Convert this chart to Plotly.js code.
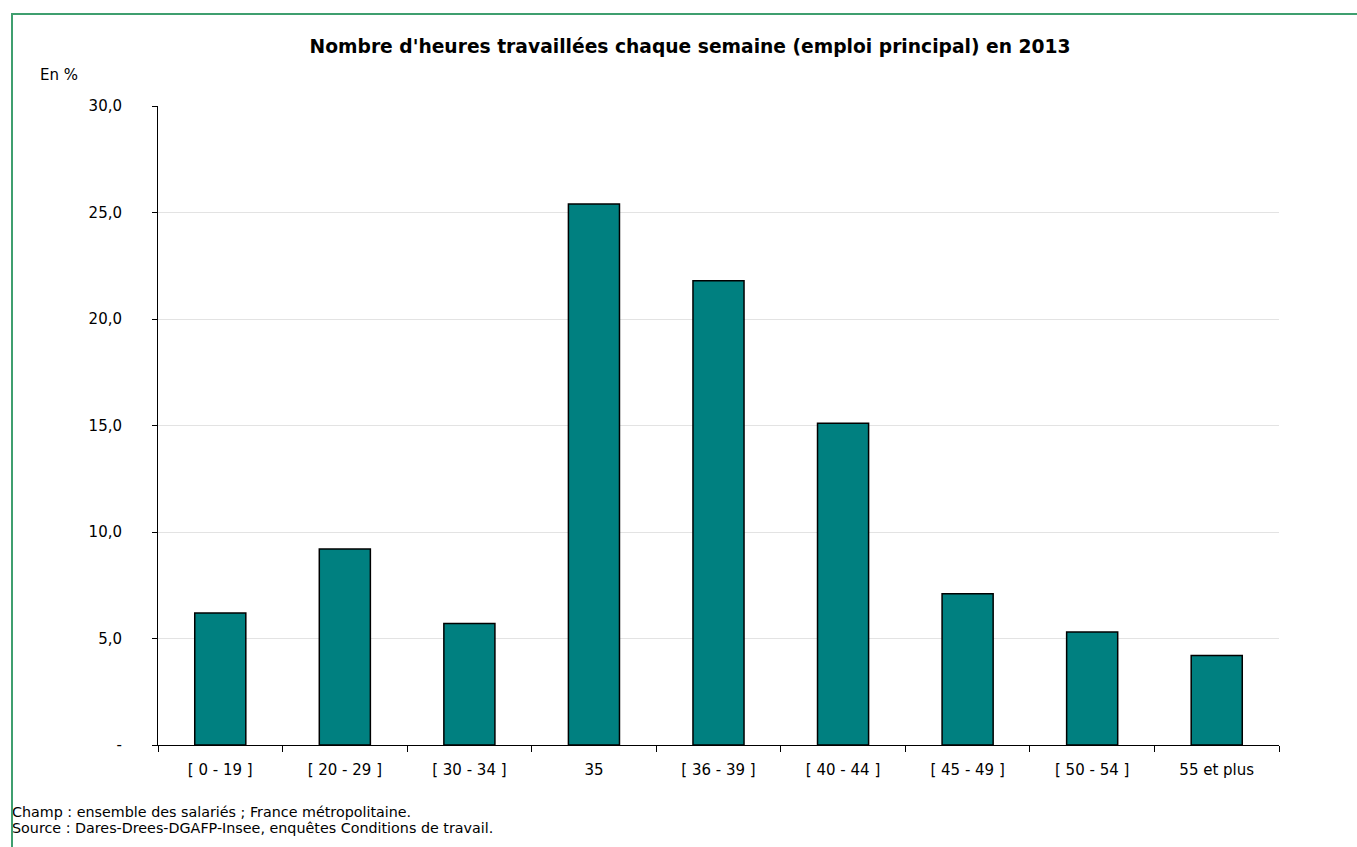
<!DOCTYPE html>
<html>
<head>
<meta charset="utf-8">
<script src="https://cdn.plot.ly/plotly-3.0.1.min.js"></script>
<style>
html,body{margin:0;padding:0;background:#fff;}
#wrap{position:relative;width:1357px;height:847px;}
#frame{position:absolute;left:11px;top:13px;width:1346px;height:834px;border-top:2px solid #3f9f6f;border-left:2px solid #3f9f6f;box-sizing:border-box;pointer-events:none;}
#chart{position:absolute;left:0;top:0;width:1357px;height:847px;}
</style>
</head>
<body>
<div id="wrap">
<div id="chart"></div>
<div id="frame"></div>
</div>
<script>
const categories = ["[ 0 - 19 ]", "[ 20 - 29 ]", "[ 30 - 34 ]", "35", "[ 36 - 39 ]", "[ 40 - 44 ]", "[ 45 - 49 ]", "[ 50 - 54 ]", "55 et plus"];
const values = [6.2, 9.2, 5.7, 25.4, 21.8, 15.1, 7.1, 5.3, 4.2];
const yTickVals = [0, 5, 10, 15, 20, 25, 30];
const yTickText = ["-", "5,0", "10,0", "15,0", "20,0", "25,0", "30,0"];
const titleText = "Nombre d'heures travaillées chaque semaine (emploi principal) en 2013";
const unitText = "En %";
const noteLines = ["Champ : ensemble des salariés ; France métropolitaine.", "Source : Dares-Drees-DGAFP-Insee, enquêtes Conditions de travail."];

const font = "Verdana, 'DejaVu Sans', sans-serif";

const trace = {
  type: "bar",
  x: categories,
  y: values,
  marker: {color: "#008080", line: {color: "#000000", width: 1.5}},
  hoverinfo: "x+y"
};

const layout = {
  width: 1357, height: 847,
  margin: {l: 158, r: 78, t: 106, b: 102},
  paper_bgcolor: "rgba(0,0,0,0)",
  plot_bgcolor: "#ffffff",
  font: {family: font, size: 15, color: "#000"},
  bargap: 0.59,
  showlegend: false,
  title: {text: "<b>" + titleText + "</b>", font: {family: font, size: 18.7, color: "#000"}, x: 0.5085, xanchor: "center", y: 0.945, yanchor: "middle"},
  xaxis: {
    type: "category",
    showline: true, linecolor: "#000", linewidth: 1,
    ticks: "outside", ticklen: 6, tickcolor: "#000", tickwidth: 1,
    tickson: "boundaries",
    showgrid: false,
    tickfont: {family: font, size: 15, color: "#000"},
    ticklabelstandoff: 11,
    fixedrange: true
  },
  yaxis: {
    range: [0, 30],
    tickvals: yTickVals, ticktext: yTickText,
    showline: true, linecolor: "#000", linewidth: 1,
    ticks: "outside", ticklen: 5, tickcolor: "#000", tickwidth: 1,
    showgrid: true, gridcolor: "#e3e3e3", gridwidth: 1,
    zeroline: false,
    tickfont: {family: font, size: 15, color: "#000"},
    ticklabelstandoff: 27,
    fixedrange: true
  },
  annotations: [
    {text: unitText, xref: "paper", yref: "paper", x: -0.1072, y: 1.048, xanchor: "left", yanchor: "middle", showarrow: false, font: {family: font, size: 15, color: "#000"}},
    {text: noteLines[0], xref: "paper", yref: "paper", x: -0.1318, y: -0.1045, xanchor: "left", yanchor: "middle", showarrow: false, font: {family: font, size: 14.3, color: "#000"}},
    {text: noteLines[1], xref: "paper", yref: "paper", x: -0.1318, y: -0.1305, xanchor: "left", yanchor: "middle", showarrow: false, font: {family: font, size: 14.3, color: "#000"}}
  ]
};

Plotly.newPlot("chart", [trace], layout, {displayModeBar: false, staticPlot: false});
</script>
</body>
</html>
